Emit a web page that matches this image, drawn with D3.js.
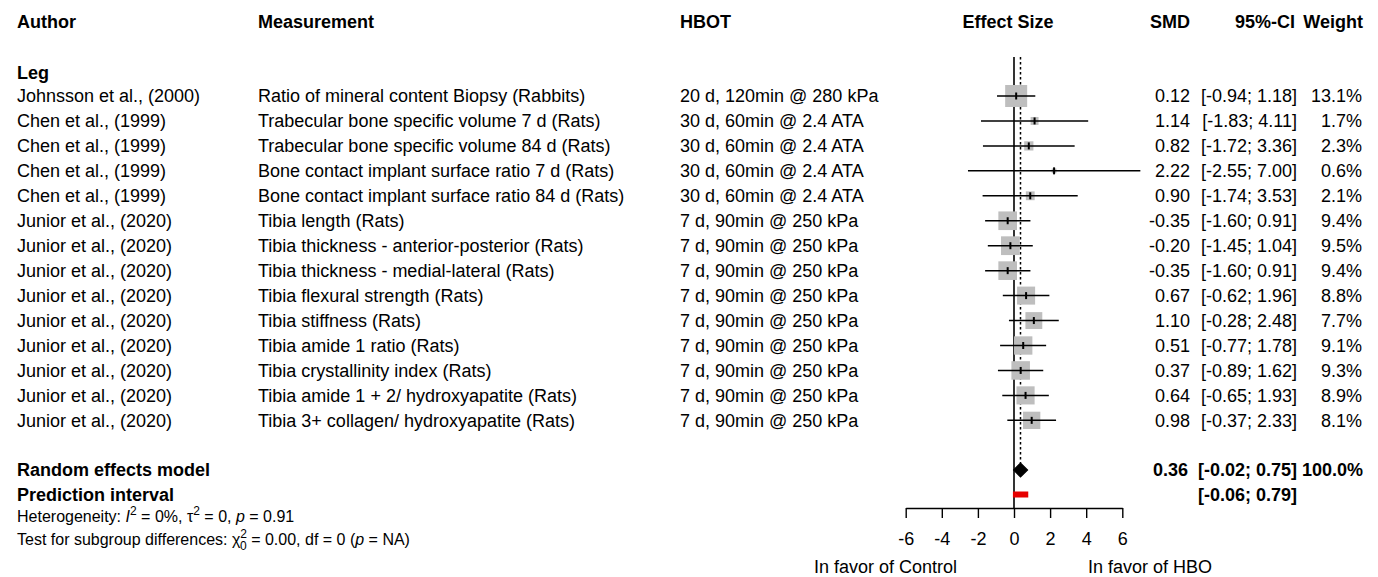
<!DOCTYPE html>
<html>
<head>
<meta charset="utf-8">
<script src="https://cdn.jsdelivr.net/npm/d3@7"></script>
<style>
  body { margin: 0; background: #fff; }
  text { font-family: "Liberation Sans", Arial, sans-serif; fill: #000; }
  .hdr { font-weight: bold; }
</style>
</head>
<body>
<script>
//data
var authors = ["Johnsson et al., (2000)", "Chen et al., (1999)", "Chen et al., (1999)", "Chen et al., (1999)",
    "Chen et al., (1999)", "Junior et al., (2020)", "Junior et al., (2020)", "Junior et al., (2020)",
    "Junior et al., (2020)", "Junior et al., (2020)", "Junior et al., (2020)", "Junior et al., (2020)",
    "Junior et al., (2020)", "Junior et al., (2020)"];
var measurements = ["Ratio of mineral content Biopsy (Rabbits)",
    "Trabecular bone specific volume 7 d (Rats)",
    "Trabecular bone specific volume 84 d (Rats)",
    "Bone contact implant surface ratio 7 d (Rats)",
    "Bone contact implant surface ratio 84 d (Rats)",
    "Tibia length (Rats)",
    "Tibia thickness - anterior-posterior (Rats)",
    "Tibia thickness - medial-lateral (Rats)",
    "Tibia flexural strength (Rats)",
    "Tibia stiffness (Rats)",
    "Tibia amide 1 ratio (Rats)",
    "Tibia crystallinity index (Rats)",
    "Tibia amide 1 + 2/ hydroxyapatite (Rats)",
    "Tibia 3+ collagen/ hydroxyapatite (Rats)"];
var hbot = ["20 d, 120min @ 280 kPa", "30 d, 60min @ 2.4 ATA", "30 d, 60min @ 2.4 ATA",
    "30 d, 60min @ 2.4 ATA", "30 d, 60min @ 2.4 ATA", "7 d, 90min @ 250 kPa", "7 d, 90min @ 250 kPa",
    "7 d, 90min @ 250 kPa", "7 d, 90min @ 250 kPa", "7 d, 90min @ 250 kPa", "7 d, 90min @ 250 kPa",
    "7 d, 90min @ 250 kPa", "7 d, 90min @ 250 kPa", "7 d, 90min @ 250 kPa"];
var smd = [0.12, 1.14, 0.82, 2.22, 0.90, -0.35, -0.20, -0.35, 0.67, 1.10, 0.51, 0.37, 0.64, 0.98];
var ciLow = [-0.94, -1.83, -1.72, -2.55, -1.74, -1.60, -1.45, -1.60, -0.62, -0.28, -0.77, -0.89, -0.65, -0.37];
var ciHigh = [1.18, 4.11, 3.36, 7.00, 3.53, 0.91, 1.04, 0.91, 1.96, 2.48, 1.78, 1.62, 1.93, 2.33];
var weights = [13.1, 1.7, 2.3, 0.6, 2.1, 9.4, 9.5, 9.4, 8.8, 7.7, 9.1, 9.3, 8.9, 8.1];

var model = { est: 0.36, lo: -0.02, hi: 0.75, weight: 100.0 };
var predInt = [-0.06, 0.79];
var ticks = [-6, -4, -2, 0, 2, 4, 6];

var W = 1378, H = 577;
var fs = 18;

var svg = d3.select("body").append("svg")
    .attr("width", W)
    .attr("height", H);

//scales
var x = d3.scaleLinear().domain([-6, 6]).range([905.7, 1122.3]);
var y = d3.scaleLinear().domain([0, 1]).range([96, 120.95]);
var side = d3.scaleSqrt().domain([0, 13.1]).range([0, 22]);

var items = smd.map(function (d, i) {
    return { i: i, author: authors[i], meas: measurements[i], hbot: hbot[i],
        est: d, lo: ciLow[i], hi: ciHigh[i], w: weights[i] };
});

function fmt(v) { return v.toFixed(2); }

//headers
var headers = [
    { t: "Author", x: 17, a: "start" },
    { t: "Measurement", x: 258, a: "start" },
    { t: "HBOT", x: 680, a: "start" },
    { t: "Effect Size", x: 1008, a: "middle" },
    { t: "SMD", x: 1190, a: "end" },
    { t: "95%-CI", x: 1295, a: "end" },
    { t: "Weight", x: 1363, a: "end" }
];
svg.append("g").selectAll("text")
    .data(headers)
    .enter().append("text")
    .attr("class", "hdr")
    .attr("x", function (d) { return d.x; })
    .attr("y", 22)
    .attr("dy", ".35em")
    .attr("text-anchor", function (d) { return d.a; })
    .style("font-size", fs + "px")
    .text(function (d) { return d.t; });

svg.append("text").attr("class", "hdr")
    .attr("x", 17).attr("y", 73).attr("dy", ".35em")
    .style("font-size", fs + "px")
    .text("Leg");

//study text columns
var rows = svg.append("g").selectAll("g")
    .data(items)
    .enter().append("g")
    .attr("transform", function (d) { return "translate(0," + y(d.i) + ")"; })
    .style("font-size", fs + "px");

rows.append("text").attr("x", 17).attr("dy", ".35em").text(function (d) { return d.author; });
rows.append("text").attr("x", 258).attr("dy", ".35em").text(function (d) { return d.meas; });
rows.append("text").attr("x", 680).attr("dy", ".35em").text(function (d) { return d.hbot; });
rows.append("text").attr("x", 1190).attr("dy", ".35em").attr("text-anchor", "end")
    .text(function (d) { return fmt(d.est); });
rows.append("text").attr("x", 1297).attr("dy", ".35em").attr("text-anchor", "end")
    .text(function (d) { return "[" + fmt(d.lo) + "; " + fmt(d.hi) + "]"; });
rows.append("text").attr("x", 1362).attr("dy", ".35em").attr("text-anchor", "end")
    .text(function (d) { return d.w.toFixed(1) + "%"; });

//reference lines
var yTop = 57, yModel = 470, yPred = 494.5, yAxis = 508;
svg.append("line")
    .attr("x1", x(0)).attr("x2", x(0))
    .attr("y1", yTop).attr("y2", yAxis)
    .attr("stroke", "#000").attr("stroke-width", 1.6);
svg.append("line")
    .attr("x1", x(model.est)).attr("x2", x(model.est))
    .attr("y1", yTop).attr("y2", yModel - 7)
    .attr("stroke", "#000").attr("stroke-width", 1.5)
    .attr("stroke-dasharray", "2.5,2.5");

//squares, CI lines and estimate ticks
var marks = svg.append("g");
marks.selectAll("rect.sq")
    .data(items)
    .enter().append("rect")
    .attr("class", "sq")
    .attr("x", function (d) { return x(d.est) - side(d.w) / 2; })
    .attr("y", function (d) { return y(d.i) - side(d.w) / 2; })
    .attr("width", function (d) { return side(d.w); })
    .attr("height", function (d) { return side(d.w); })
    .attr("fill", "#bebebe");
marks.selectAll("line.ci")
    .data(items)
    .enter().append("line")
    .attr("class", "ci")
    .attr("x1", function (d) { return x(d.lo); })
    .attr("x2", function (d) { return x(d.hi); })
    .attr("y1", function (d) { return y(d.i); })
    .attr("y2", function (d) { return y(d.i); })
    .attr("stroke", "#000").attr("stroke-width", 1.5);
marks.selectAll("line.est")
    .data(items)
    .enter().append("line")
    .attr("class", "est")
    .attr("x1", function (d) { return x(d.est); })
    .attr("x2", function (d) { return x(d.est); })
    .attr("y1", function (d) { return y(d.i) - 3.5; })
    .attr("y2", function (d) { return y(d.i) + 3.5; })
    .attr("stroke", "#000").attr("stroke-width", 2);

//model diamond
svg.append("path")
    .attr("d", "M" + x(model.lo) + "," + yModel +
        "L" + x(model.est) + "," + (yModel - 7) +
        "L" + x(model.hi) + "," + yModel +
        "L" + x(model.est) + "," + (yModel + 7) + "Z")
    .attr("fill", "#000").attr("stroke", "#000").attr("stroke-width", 1.2);

//prediction interval
svg.append("rect")
    .attr("x", x(predInt[0]))
    .attr("y", yPred - 3)
    .attr("width", x(predInt[1]) - x(predInt[0]))
    .attr("height", 6)
    .attr("fill", "#e60000");

//model rows text
var mg = svg.append("g").attr("class", "hdr").style("font-size", fs + "px");
mg.append("text").attr("x", 17).attr("y", yModel).attr("dy", ".35em").text("Random effects model");
mg.append("text").attr("x", 17).attr("y", yPred).attr("dy", ".35em").text("Prediction interval");
mg.append("text").attr("x", 1188).attr("y", yModel).attr("dy", ".35em").attr("text-anchor", "end")
    .text(fmt(model.est));
mg.append("text").attr("x", 1297).attr("y", yModel).attr("dy", ".35em").attr("text-anchor", "end")
    .text("[" + fmt(model.lo) + "; " + fmt(model.hi) + "]");
mg.append("text").attr("x", 1363).attr("y", yModel).attr("dy", ".35em").attr("text-anchor", "end")
    .text(model.weight.toFixed(1) + "%");
mg.append("text").attr("x", 1297).attr("y", yPred).attr("dy", ".35em").attr("text-anchor", "end")
    .text("[" + fmt(predInt[0]) + "; " + fmt(predInt[1]) + "]");

//heterogeneity notes
var nfs = 16;
var het = svg.append("text").attr("x", 17).attr("y", 516).attr("dy", ".35em").style("font-size", nfs + "px");
het.append("tspan").text("Heterogeneity: ");
het.append("tspan").style("font-style", "italic").text("I");
het.append("tspan").attr("dy", -7).style("font-size", "12px").text("2");
het.append("tspan").attr("dy", 7).text(" = 0%, \u03c4");
het.append("tspan").attr("dy", -7).style("font-size", "12px").text("2");
het.append("tspan").attr("dy", 7).text(" = 0, ");
het.append("tspan").style("font-style", "italic").text("p");
het.append("tspan").text(" = 0.91");

var tst = svg.append("text").attr("x", 17).attr("y", 539).attr("dy", ".35em").style("font-size", nfs + "px");
tst.append("tspan").text("Test for subgroup differences: \u03c7");
tst.append("tspan").attr("dy", -7).style("font-size", "12px").text("2");
tst.append("tspan").attr("dx", -7).attr("dy", 12).style("font-size", "12px").text("0");
tst.append("tspan").attr("dy", -5).text(" = 0.00, df = 0 (");
tst.append("tspan").style("font-style", "italic").text("p");
tst.append("tspan").text(" = NA)");

//axis
var axis = d3.axisBottom(x)
    .tickValues(ticks)
    .tickSize(10)
    .tickSizeOuter(0)
    .tickPadding(14)
    .tickFormat(d3.format("d"));
var ax = svg.append("g")
    .attr("transform", "translate(0," + yAxis + ")")
    .call(axis);
ax.select(".domain").attr("stroke", "#000").attr("stroke-width", 1.4);
ax.selectAll(".tick line").attr("stroke", "#000").attr("stroke-width", 1.4);
ax.selectAll(".tick text")
    .style("font-family", "'Liberation Sans', Arial, sans-serif")
    .style("font-size", fs + "px")
    .attr("fill", "#000")
    .text(function (d) { return d < 0 ? "-" + Math.abs(d) : d; });

svg.append("text").attr("x", 957).attr("y", 567).attr("dy", ".35em").attr("text-anchor", "end")
    .style("font-size", fs + "px").text("In favor of Control");
svg.append("text").attr("x", 1088).attr("y", 567).attr("dy", ".35em")
    .style("font-size", fs + "px").text("In favor of HBO");
</script>
</body>
</html>
